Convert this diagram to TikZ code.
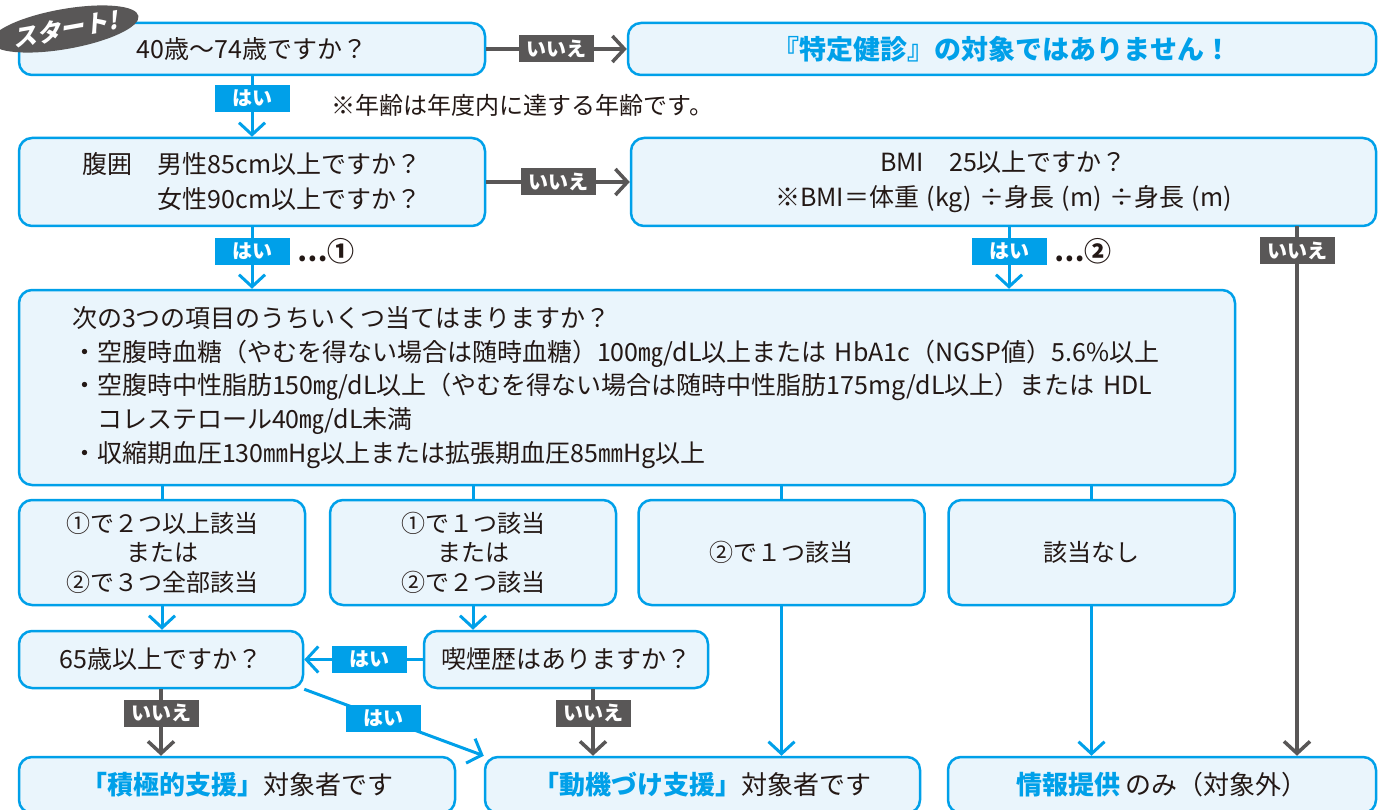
\documentclass[tikz,border=0pt]{standalone}
\usepackage{fontspec}
\setmainfont{Noto Sans CJK JP}
\newfontfamily\slantfont[FakeSlant=0.25]{Noto Sans CJK JP}
\usetikzlibrary{arrows.meta,positioning,shapes.geometric}
\definecolor{fcblue}{HTML}{00A0E9}
\definecolor{fcfill}{HTML}{EAF5FC}
\definecolor{fcgrey}{HTML}{595757}
\definecolor{fctext}{HTML}{231815}

\begin{document}
\begin{tikzpicture}[x=1pt,y=-1pt,>={Straight Barb[length=12pt,width=26pt]},
    every node/.style={text=fctext},
    box/.style={draw=fcblue,fill=fcfill,line width=2.5pt,rounded corners=13pt,inner sep=0pt,
        align=center,font=\fontsize{25}{30}\selectfont},
    hai/.style={fill=fcblue,text=white,inner sep=0pt,minimum width=75pt,minimum height=27pt,
        font=\bfseries\fontsize{20}{20}\selectfont},
    iie/.style={hai,fill=fcgrey},
    bline/.style={draw=fcblue,line width=3pt},
    gline/.style={draw=fcgrey,line width=3.5pt},
    goal/.style={box,minimum height=56pt,font=\fontsize{26}{30}\selectfont}]
    \useasboundingbox (0,0) rectangle (1378,810);
    \clip (0,0) rectangle (1378,810);

    % questions
    \node[box,minimum width=466pt,minimum height=52pt] (age) at (252,49) {40歳～74歳ですか？};
    \node[box,minimum width=748pt,minimum height=52pt,text=fcblue,
        font=\bfseries\fontsize{27}{30}\selectfont] (out) at (1002,49) {『特定健診』の対象ではありません！};
    \node[anchor=west,font=\fontsize{24}{24}\selectfont] (note) at (328,105) {※年齢は年度内に達する年齢です。};
    \node[box,minimum width=466pt,minimum height=88pt,align=left,
        font=\fontsize{25}{35}\selectfont] (waist) at (252,182)
        {腹囲　男性85cm以上ですか？\\\hspace*{3em}女性90cm以上ですか？};
    \node[box,minimum width=745pt,minimum height=88pt,font=\fontsize{25}{35}\selectfont] (bmi) at (1003.5,182)
        {BMI　25以上ですか？\\※BMI＝体重\hspace{0.3em}(kg)\hspace{0.3em}÷身長\hspace{0.3em}(m)\hspace{0.3em}÷身長\hspace{0.3em}(m)};
    \node[box,minimum width=1216pt,minimum height=195pt,text width=1110pt,align=left,
        font=\fontsize{25}{33.75}\selectfont] (items) at (627,387.5)
        {次の3つの項目のうちいくつ当てはまりますか？\\
        ・空腹時血糖（やむを得ない場合は随時血糖）100㎎/dL以上または~HbA1c（NGSP値）5.6\%以上\\
        ・空腹時中性脂肪150㎎/dL以上（やむを得ない場合は随時中性脂肪175mg/dL以上）または~HDL\\
        \hspace*{1em}コレステロール40㎎/dL未満\\
        ・収縮期血圧130㎜Hg以上または拡張期血圧85㎜Hg以上};

    % counts
    \tikzset{count/.style={box,minimum width=286pt,minimum height=105pt,font=\fontsize{24}{29.5}\selectfont}}
    \node[count] (f1) at (162,552.5) {①で２つ以上該当\\または\\②で３つ全部該当};
    \node[count] (f2) at (473,552.5) {①で１つ該当\\または\\②で２つ該当};
    \node[count] (f3) at (781.5,552.5) {②で１つ該当};
    \node[count] (f4) at (1091.5,552.5) {該当なし};
    \node[box,minimum width=284pt,minimum height=57pt] (g1) at (161,659.5) {65歳以上ですか？};
    \node[box,minimum width=284pt,minimum height=57pt] (g2) at (566,659.5) {喫煙歴はありますか？};

    % results
    \node[goal,minimum width=436pt] (h1) at (237,785) {{\color{fcblue}\bfseries「積極的支援」}対象者です};
    \node[goal,minimum width=435pt] (h2) at (702.5,785) {{\color{fcblue}\bfseries「動機づけ支援」}対象者です};
    \node[goal,minimum width=428pt] (info) at (1162,785) {{\color{fcblue}\bfseries 情報提供} のみ（対象外）};

    \node[ellipse,fill=fcgrey,minimum width=126pt,minimum height=40pt,inner sep=0pt,rotate=10,text=white,
        font=\slantfont\bfseries\fontsize{24}{24}\selectfont] (start) at (65,29) {スタート!};

    % connectors
    \draw[gline,->] (age) -- node[iie] (n1) {いいえ} (out);
    \draw[bline,->] (age) -- node[hai,pos=0.37] (y1) {はい} (waist);
    \draw[gline,->] (waist) -- node[iie] (n2) {いいえ} (bmi);
    \draw[bline,->] (waist) -- node[hai,pos=0.39] (y2) {はい} (waist |- items.north);
    \node[right=3pt of y2,font=\bfseries\fontsize{27}{27}\selectfont] (c1) {…①};
    \coordinate (bmiyes) at ([xshift=5.5pt]bmi.south);
    \draw[bline,->] (bmiyes) -- node[hai,pos=0.39] (y3) {はい} (bmiyes |- items.north);
    \node[right=3pt of y3,font=\bfseries\fontsize{27}{27}\selectfont] (c2) {…②};
    \coordinate (bmino) at (1297,226);
    \draw[gline,->] (bmino) -- node[iie,pos=0.047] (n3) {いいえ} (bmino |- info.north);

    \foreach \f in {f1,f2,f3,f4}
        \draw[bline] (\f.north |- items.south) -- (\f);
    \draw[bline,->] (f1) -- (f1 |- g1.north);
    \draw[bline,->] (f2) -- (f2 |- g2.north);
    \draw[bline,->] (g2) -- node[hai,pos=0.45] (y4) {はい} (g1);
    \draw[gline,->] (g1) -- node[iie,pos=0.36] (n4) {いいえ} (g1 |- h1.north);
    \draw[bline,->] (g1.south east) -- node[hai,pos=0.44] (y5) {はい} (h2.north west);
    \coordinate (smokeno) at ([xshift=27pt]g2.south);
    \draw[gline,->] (smokeno) -- node[iie,pos=0.36] (n5) {いいえ} (smokeno |- h2.north);
    \draw[bline,->] (f3) -- (f3 |- h2.north);
    \draw[bline,->] (f4) -- (f4 |- info.north);
\end{tikzpicture}
\end{document}
